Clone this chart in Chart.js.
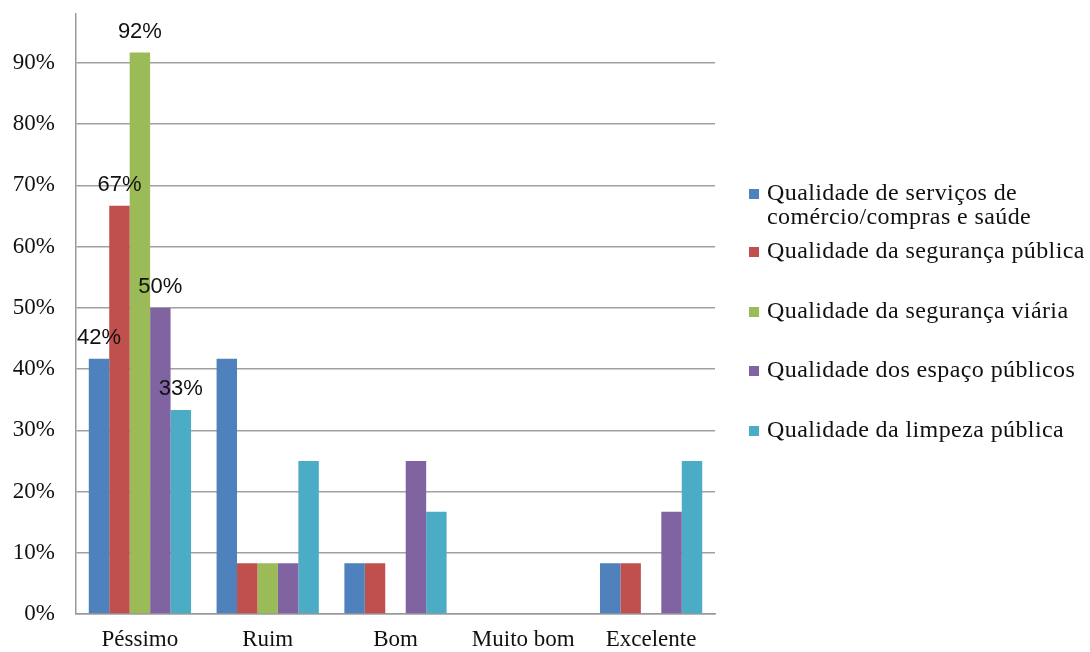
<!DOCTYPE html>
<html>
<head>
<meta charset="utf-8">
<script src="https://cdn.jsdelivr.net/npm/chart.js@4.4.1/dist/chart.umd.min.js"></script>
<style>
  html, body { margin: 0; padding: 0; background: #fff; }
  #chartBox { display: block; }
</style>
</head>
<body>
<canvas id="chartBox" width="1090" height="652"></canvas>
<script>
// answers from 12 people, shown as percent
const categories = ['Péssimo', 'Ruim', 'Bom', 'Muito bom', 'Excelente']
const seriesNames = [
    'Qualidade de serviços de\ncomércio/compras e saúde',
    'Qualidade da segurança pública',
    'Qualidade da segurança viária',
    'Qualidade dos espaço públicos',
    'Qualidade da limpeza pública'
]
const comercio = [41.7, 41.7, 8.3, 0, 8.3]
const seguranca = [66.7, 8.3, 8.3, 0, 8.3]
const viaria = [91.7, 8.3, 0, 0, 0]
const espacos = [50, 8.3, 25, 0, 16.7]
const limpeza = [33.3, 25, 16.7, 0, 25]
const yTicks = [0, 10, 20, 30, 40, 50, 60, 70, 80, 90]
const labelledCategory = 0

const colors = ['#4F81BD', '#C0504D', '#9BBB59', '#8064A2', '#4BACC6']
const serif = '"Liberation Serif", "DejaVu Serif", serif'
const sans = '"Liberation Sans", Arial, sans-serif'
const ink = '#111'

const valueLabels = {
    id: 'valueLabels',
    afterDatasetsDraw(chart) {
        const ctx = chart.ctx
        ctx.save()
        ctx.font = '22px ' + sans
        ctx.fillStyle = ink
        ctx.textAlign = 'center'
        ctx.textBaseline = 'middle'
        chart.data.datasets.forEach((ds, i) => {
            const bar = chart.getDatasetMeta(i).data[labelledCategory]
            const v = ds.data[labelledCategory]
            ctx.fillText(Math.round(v) + '%', bar.x, bar.y - 21)
        })
        ctx.restore()
    }
}

const sideLegend = {
    id: 'sideLegend',
    afterDraw(chart) {
        const ctx = chart.ctx
        const rows = [194, 252, 312, 371, 431]
        ctx.save()
        ctx.font = '24px ' + serif
        ctx.letterSpacing = '0.4px'
        ctx.textBaseline = 'middle'
        chart.data.datasets.forEach((ds, i) => {
            ctx.fillStyle = ds.backgroundColor
            ctx.fillRect(749, rows[i] - 5, 10, 10)
            ctx.fillStyle = ink
            ds.label.split('\n').forEach((line, k) => {
                ctx.fillText(line, 767, rows[i] + k * 24)
            })
        })
        ctx.restore()
    }
}

const context = document.querySelector('#chartBox').getContext('2d')
const chart = new Chart(context, {
    type: 'bar',
    data: {
        labels: categories,
        datasets: [comercio, seguranca, viaria, espacos, limpeza].map((data, i) => ({
            label: seriesNames[i],
            backgroundColor: colors[i],
            borderWidth: 0,
            data,
            categoryPercentage: 0.8,
            barPercentage: 1.0
        }))
    },
    options: {
        responsive: false,
        devicePixelRatio: 1,
        animation: false,
        layout: { padding: { top: 14, right: 375, left: 0, bottom: 0 } },
        plugins: {
            legend: { display: false },
            tooltip: { enabled: false }
        },
        scales: {
            x: {
                grid: { display: false, drawTicks: false },
                border: { display: true, color: '#999', width: 1.5 },
                ticks: { color: ink, font: { family: serif, size: 23 }, padding: 12 },
                afterFit(scale) { scale.height = 38 }
            },
            y: {
                min: 0,
                max: 98,
                afterBuildTicks(scale) { scale.ticks = yTicks.map(v => ({ value: v })) },
                grid: { color: '#a0a0a0', lineWidth: 1.5, drawTicks: false },
                border: { display: true, color: '#999', width: 1.5 },
                ticks: {
                    color: ink,
                    font: { family: serif, size: 23 },
                    padding: 21,
                    callback: v => v + '%'
                },
                afterFit(scale) {
                    scale.width = 76
                    scale.paddingTop = 0
                    scale.paddingBottom = 0
                }
            }
        }
    },
    plugins: [valueLabels, sideLegend]
})
</script>
</body>
</html>
